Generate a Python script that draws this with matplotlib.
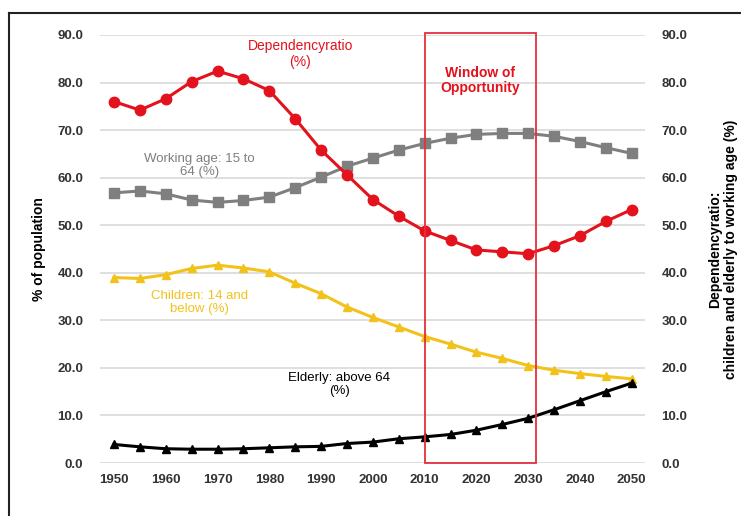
import matplotlib.pyplot as plt
from matplotlib.patches import Rectangle
from matplotlib.lines import Line2D

plt.rcParams['font.family'] = ['Liberation Sans', 'DejaVu Sans']

years = [1950, 1955, 1960, 1965, 1970, 1975, 1980, 1985, 1990, 1995, 2000,
         2005, 2010, 2015, 2020, 2025, 2030, 2035, 2040, 2045, 2050]
dependency = [76.0, 74.2, 76.6, 80.2, 82.4, 80.8, 78.3, 72.4, 65.8, 60.6, 55.4,
              51.9, 48.8, 46.8, 44.8, 44.4, 44.0, 45.7, 47.8, 50.8, 53.3]
working = [56.8, 57.2, 56.6, 55.3, 54.8, 55.2, 55.9, 57.9, 60.1, 62.4, 64.1,
           65.8, 67.2, 68.3, 69.1, 69.3, 69.3, 68.7, 67.6, 66.3, 65.1]
children = [39.0, 38.8, 39.6, 40.9, 41.6, 41.0, 40.2, 37.8, 35.6, 32.8, 30.6,
            28.6, 26.6, 25.0, 23.3, 22.0, 20.5, 19.5, 18.8, 18.2, 17.7]
elderly = [3.9, 3.4, 3.0, 2.9, 2.9, 3.0, 3.2, 3.4, 3.5, 4.1, 4.4,
           5.1, 5.5, 6.0, 6.9, 8.1, 9.4, 11.2, 13.1, 15.0, 16.8]

yticks = [0, 10, 20, 30, 40, 50, 60, 70, 80, 90]
xticks = [1950, 1960, 1970, 1980, 1990, 2000, 2010, 2020, 2030, 2040, 2050]
window = (2010, 2031.5)

red = '#e3121c'
gray = '#7f7f7f'
gold = '#f2c21b'

fig = plt.figure(figsize=(7.41, 5.16), dpi=100)
ax = fig.add_axes([0.135, 0.1027, 0.735, 0.8295])

ax.plot(years, working, color=gray, lw=2.2, marker='s', ms=6.5, zorder=3)
ax.plot(years, dependency, color=red, lw=2.2, marker='o', ms=7.5, zorder=4)
ax.plot(years, children, color=gold, lw=2.2, marker='^', ms=5.5, zorder=3)
ax.plot(years, elderly, color='black', lw=2.2, marker='^', ms=6, zorder=3)

ax.add_patch(Rectangle((window[0], 0), window[1] - window[0], 90.5,
                       fill=False, edgecolor='#e3303c', lw=1.3, clip_on=False, zorder=5))

ax.set_xlim(1947.3, 2052.5)
ax.set_ylim(0, 90)
ax.set_yticks(yticks)
ax.set_yticklabels([f'{v:.1f}' for v in yticks])
ax.set_xticks(xticks)
ax.grid(axis='y', color='#d9d9d9', lw=1.2)
ax.set_axisbelow(True)
for s in ax.spines.values():
    s.set_visible(False)
ax.tick_params(length=0, labelsize=9.5, colors='#333333', pad=12)
ax.tick_params(axis='x', pad=8)
for lab in ax.get_xticklabels() + ax.get_yticklabels():
    lab.set_fontweight('bold')
ax.set_ylabel('% of population', fontsize=10, fontweight='bold', labelpad=8)

ax2 = ax.twinx()
ax2.set_ylim(0, 90)
ax2.set_yticks(yticks)
ax2.set_yticklabels([f'{v:.1f}' for v in yticks])
for s in ax2.spines.values():
    s.set_visible(False)
ax2.tick_params(length=0, labelsize=9.5, colors='#333333', pad=12)
for lab in ax2.get_yticklabels():
    lab.set_fontweight('bold')
ax2.set_ylabel('Dependencyratio:\nchildren and elderly to working age (%)',
               fontsize=10, fontweight='bold', labelpad=15)

ax.text(1986, 86, 'Dependencyratio\n(%)', color=red, fontsize=10,
        ha='center', va='center', linespacing=1.1)
ax.text(2020.7, 80.5, 'Window of\nOpportunity', color=red, fontsize=10,
        fontweight='bold', ha='center', va='center', linespacing=1.1)
ax.text(1966.5, 62.5, 'Working age: 15 to\n64 (%)', color=gray, fontsize=9.5,
        ha='center', va='center', linespacing=1.1)
ax.text(1966.5, 33.8, 'Children: 14 and\nbelow (%)', color=gold, fontsize=9.5,
        ha='center', va='center', linespacing=1.1)
ax.text(1993.5, 16.5, 'Elderly: above 64\n(%)', color='black', fontsize=9.5,
        ha='center', va='center', linespacing=1.1)

# outer frame (top and left edges visible in the original)
fig.add_artist(Line2D([9 / 741, 9 / 741], [0, 1 - 13 / 516], color='#222222', lw=1.5))
fig.add_artist(Line2D([9 / 741, 1], [1 - 13 / 516, 1 - 13 / 516], color='#222222', lw=1.5))

fig.savefig('out.png', dpi=100)
